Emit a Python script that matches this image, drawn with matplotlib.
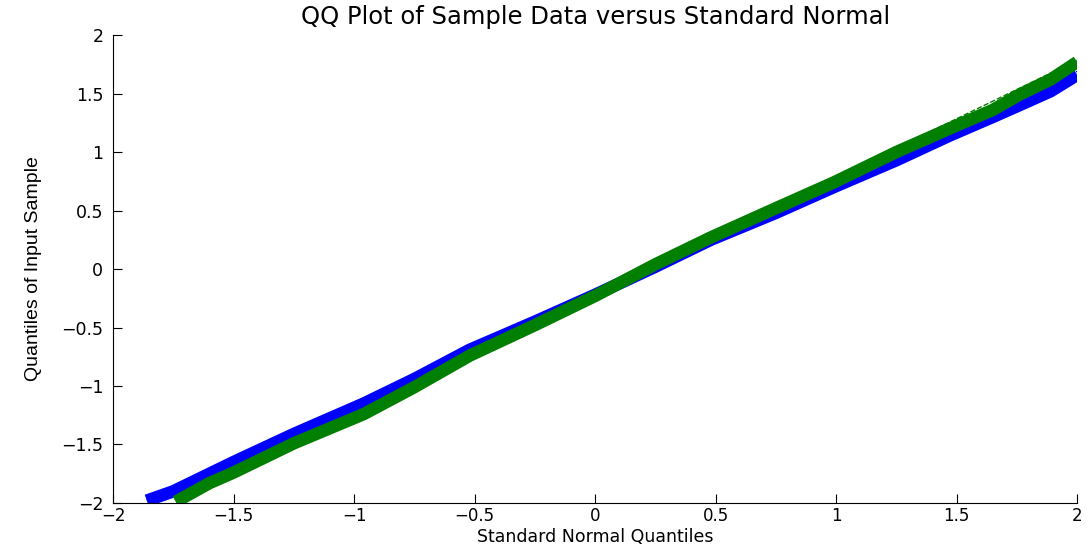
import numpy as np
import matplotlib.pyplot as plt

# quantile pairs (standard normal quantile, sample quantile)
blue_x = [-1.86, -1.75, -1.50, -1.25, -0.96, -0.75, -0.52, -0.25, 0.00, 0.25, 0.48, 0.75, 0.99, 1.25, 1.47, 1.65, 1.76, 1.89, 2.00]
blue_y = [-1.98, -1.90, -1.65, -1.41, -1.15, -0.94, -0.69, -0.45, -0.22, 0.02, 0.25, 0.48, 0.70, 0.93, 1.14, 1.30, 1.40, 1.52, 1.66]

green_x = [-1.74, -1.60, -1.50, -1.25, -0.96, -0.75, -0.52, -0.25, 0.00, 0.25, 0.48, 0.75, 0.99, 1.25, 1.47, 1.65, 1.76, 1.89, 2.00]
green_y = [-1.99, -1.83, -1.74, -1.49, -1.24, -1.01, -0.74, -0.48, -0.23, 0.04, 0.27, 0.52, 0.74, 1.00, 1.20, 1.36, 1.49, 1.62, 1.77]

# reference lines through the quartiles: (slope, intercept)
blue_ref = (0.95, -0.21)
green_ref = (1.0, -0.215)

xticks = [-2, -1.5, -1, -0.5, 0, 0.5, 1, 1.5, 2]
yticks = [-2, -1.5, -1, -0.5, 0, 0.5, 1, 1.5, 2]
ticklabels = ['\u22122', '\u22121.5', '\u22121', '\u22120.5', '0', '0.5', '1', '1.5', '2']

plt.rcParams['font.family'] = ['DejaVu Sans']

fig = plt.figure(figsize=(10.87, 5.46), dpi=100)
ax = fig.add_axes([0.104, 0.0788, 0.887, 0.857])

for xs, ref, col in [(blue_x, blue_ref, '#0000ff'), (green_x, green_ref, '#007f00')]:
    xr = np.array([xs[0], xs[-1]])
    ax.plot(xr, ref[0] * xr + ref[1], '--', color=col, linewidth=1.0, zorder=1)

ax.plot(blue_x, blue_y, color='#0000ff', linewidth=9, solid_capstyle='butt', zorder=2)
ax.plot(green_x, green_y, color='#007f00', linewidth=9, solid_capstyle='butt', zorder=3)

ax.set_xlim(-2, 2)
ax.set_ylim(-2, 2)
ax.set_xticks(xticks)
ax.set_yticks(yticks)
ax.set_xticklabels(ticklabels)
ax.set_yticklabels(ticklabels)
ax.tick_params(direction='in', length=6.5, width=0.8, labelsize=12.5,
               top=False, right=False)
ax.tick_params(axis='x', labelsize=12, pad=3)
ax.tick_params(axis='y', pad=7)
ax.spines['top'].set_visible(False)
ax.spines['right'].set_visible(False)

ax.set_title('QQ Plot of Sample Data versus Standard Normal', fontsize=17.5, pad=8)
ax.set_xlabel('Standard Normal Quantiles', fontsize=12.5, va='baseline')
ax.xaxis.set_label_coords(0.5, -0.0844)
ax.set_ylabel('Quantiles of Input Sample', fontsize=14, labelpad=14,
              family=['Liberation Sans', 'DejaVu Sans'])

fig.savefig('out.png', dpi=100)
